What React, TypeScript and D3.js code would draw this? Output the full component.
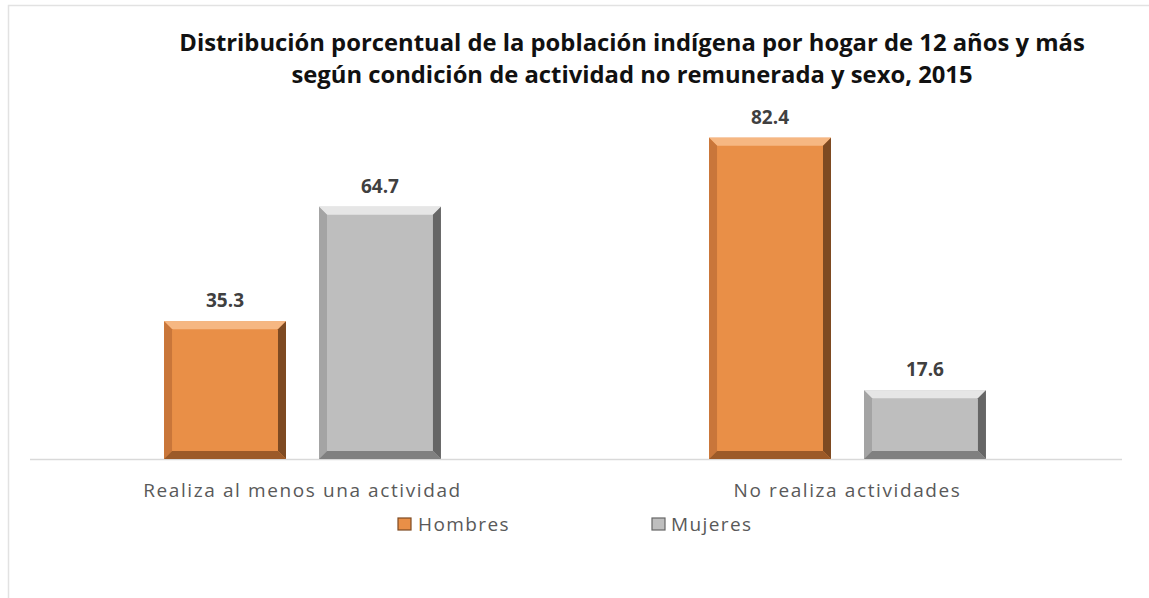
import React from 'react';
import * as d3 from 'd3';

const categories = ['Realiza al menos una actividad', 'No realiza actividades'];
const series = ['Hombres', 'Mujeres'];
const hombres = [35.3, 82.4];
const mujeres = [64.7, 17.6];
const titleLines = [
  'Distribución porcentual de la población indígena por hogar de 12 años y más',
  'según condición de actividad no remunerada y sexo, 2015',
];

const W = 1149;
const H = 598;
const FONT = "'Open Sans', 'Noto Sans', sans-serif";

const palette: Record<string, { base: string; top: string; left: string; right: string; bottom: string }> = {
  Hombres: { base: '#E98F47', top: '#F6B782', left: '#C9763A', right: '#7E4A22', bottom: '#9C5A28' },
  Mujeres: { base: '#BEBEBE', top: '#E6E6E6', left: '#A4A4A4', right: '#666666', bottom: '#808080' },
};

// legend placement (square x, text x)
const legendPos: Record<string, [number, number]> = { Hombres: [398, 418], Mujeres: [652, 671] };

function BevelBar({ x, y, w, h, s }: { x: number; y: number; w: number; h: number; s: string }) {
  const c = palette[s];
  const b = Math.min(8, h / 3, w / 3);
  const x2 = x + w;
  const y2 = y + h;
  const pts = (arr: number[][]) => arr.map(p => p.join(',')).join(' ');
  return (
    <g>
      <rect x={x} y={y} width={w} height={h} fill={c.base} />
      <polygon points={pts([[x, y], [x2, y], [x2 - b, y + b], [x + b, y + b]])} fill={c.top} />
      <polygon points={pts([[x, y], [x + b, y + b], [x + b, y2 - b], [x, y2]])} fill={c.left} />
      <polygon points={pts([[x2, y], [x2, y2], [x2 - b, y2 - b], [x2 - b, y + b]])} fill={c.right} />
      <polygon points={pts([[x, y2], [x + b, y2 - b], [x2 - b, y2 - b], [x2, y2]])} fill={c.bottom} />
    </g>
  );
}

export default function App() {
  const baseY = 459;
  const x0 = d3.scaleBand<string>().domain(categories).range([30, 1120]);
  const x1 = d3.scaleBand<string>()
    .domain(series)
    .range([0, x0.bandwidth()])
    .paddingInner(0.213)
    .paddingOuter(0.865);
  const y = d3.scaleLinear().domain([0, 100]).range([baseY, 69]);

  const values: Record<string, number[]> = { Hombres: hombres, Mujeres: mujeres };

  return (
    <svg width={W} height={H} style={{ position: 'absolute', left: 0, top: 0, background: '#fff' }}>
      <rect x={8.5} y={5.5} width={W + 10} height={H + 10} fill="none" stroke="#E2E2E2" strokeWidth={1.5} />

      {titleLines.map((t, i) => (
        <text key={i} x={632} y={51 + i * 32} textAnchor="middle"
          fontFamily={FONT} fontWeight={700} fontSize={23.8} fill="#111">
          {t}
        </text>
      ))}

      <line x1={30} x2={1122} y1={baseY + 0.5} y2={baseY + 0.5} stroke="#D9D9D9" strokeWidth={1.5} />

      {categories.map((cat, ci) => (
        <g key={cat}>
          {series.map(s => {
            const v = values[s][ci];
            const bx = (x0(cat) ?? 0) + (x1(s) ?? 0);
            const by = y(v);
            return (
              <g key={s}>
                <BevelBar x={bx} y={by} w={x1.bandwidth()} h={baseY - by} s={s} />
                <text x={bx + x1.bandwidth() / 2} y={by - 14} textAnchor="middle"
                  fontFamily={FONT} fontWeight={700} fontSize={19} fill="#404040">
                  {v.toFixed(1)}
                </text>
              </g>
            );
          })}
          <text x={(x0(cat) ?? 0) + x0.bandwidth() / 2} y={497} textAnchor="middle"
            fontFamily={FONT} fontSize={19} letterSpacing={1.6} fill="#595959">
            {cat}
          </text>
        </g>
      ))}

      {series.map(s => {
        const [sx, tx] = legendPos[s];
        return (
          <g key={s}>
            <rect x={sx} y={518} width={13} height={12} fill={palette[s].base} stroke={palette[s].right} strokeWidth={1.2} />
            <text x={tx} y={531} fontFamily={FONT} fontSize={19}
              letterSpacing={1.4} fill="#595959">
              {s}
            </text>
          </g>
        );
      })}
    </svg>
  );
}
